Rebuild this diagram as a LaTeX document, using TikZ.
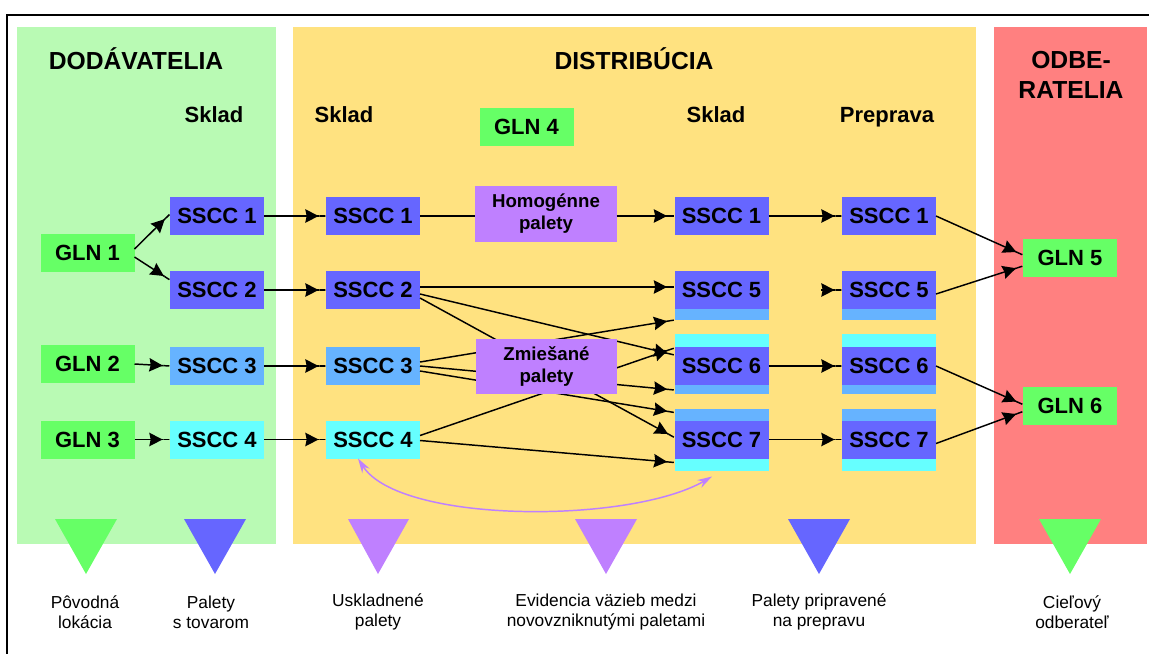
\documentclass[tikz,border=0pt]{standalone}
\usepackage{fontspec}
\setmainfont{Liberation Sans}
\usetikzlibrary{arrows.meta,calc}

\definecolor{panelgreen}{RGB}{185,250,180}
\definecolor{panelyellow}{RGB}{255,226,128}
\definecolor{panelred}{RGB}{255,128,128}
\definecolor{glngreen}{RGB}{102,255,102}
\definecolor{ssccblue}{RGB}{102,102,255}
\definecolor{sscclight}{RGB}{102,179,255}
\definecolor{sscccyan}{RGB}{102,255,255}
\definecolor{mixpurple}{RGB}{191,128,255}

\tikzset{every picture/.style={line width=0.75pt}}
\tikzset{
  idbox/.style={minimum width=70.5pt, minimum height=28.5pt, inner sep=0pt, outer sep=0pt, font=\bfseries\fontsize{16.5}{16.5}\selectfont},
  gln/.style={idbox, fill=glngreen},
  sscc/.style={idbox, fill=ssccblue},
  ssccl/.style={idbox, fill=sscclight},
  ssccc/.style={idbox, fill=sscccyan},
  palbox/.style={fill=mixpurple, minimum width=106pt, minimum height=41.5pt, inner sep=0pt, outer sep=0pt, align=center, font=\bfseries\fontsize{14}{16.5}\selectfont},
  title/.style={font=\bfseries\fontsize{18.5}{22.5}\selectfont, align=center},
  colhead/.style={font=\bfseries\fontsize{16.5}{16.5}\selectfont, anchor=base},
  legend/.style={font=\fontsize{13}{15}\selectfont, align=center},
  flow/.style={line width=1.1pt, -{Stealth[length=10pt,width=10pt,inset=1pt]Rectangle[length=5.5pt,width=1.1pt]}},
  link/.style={line width=1.1pt},
  trace/.style={draw=mixpurple, line width=1.1pt, {Stealth[length=11pt,width=6.5pt]}-{Stealth[length=11pt,width=6.5pt]}},
}

\begin{document}
\begin{tikzpicture}[x=0.75pt,y=0.75pt,yscale=-1,xscale=1]
\useasboundingbox (0,0) rectangle (1149,654);

%Shape: Frame
\draw [line width=1.5pt] (1149,15) -- (7,15) -- (7,654) ;
%Shape: Rectangle (panels)
\fill [panelgreen] (17,27) rectangle (276,544) ;
\fill [panelyellow] (293,27) rectangle (976,544) ;
\fill [panelred] (994,27) rectangle (1147,544) ;

% Text Node
\node [title, anchor=base] (tsup) at (136,69) {DODÁVATELIA};
\node [title, anchor=base] (tdis) at (634,69) {DISTRIBÚCIA};
\node [title] (tcus) at (1071,75) {ODBE-\\RATELIA};
% Text Node
\node [colhead] (hsa) at (214,122) {Sklad};
\node [colhead] (hsb) at (344,122) {Sklad};
\node [colhead] (hsc) at (716,122) {Sklad};
\node [colhead] (hpr) at (887,122) {Preprava};

%Shape: GLN boxes
\node [gln] (g1) at (87.5,253) {GLN 1};
\node [gln] (g2) at (87.5,364) {GLN 2};
\node [gln] (g3) at (87.5,439.5) {GLN 3};
\node [gln] (g4) at (526.5,127) {GLN 4};
\node [gln] (g5) at (1070,258) {GLN 5};
\node [gln] (g6) at (1070,405.5) {GLN 6};

%Shape: SSCC boxes
\node [sscc] (a1) at (217,216) {SSCC 1};
\node [sscc] (a2) at (217,290) {SSCC 2};
\node [ssccl] (a3) at (217,366) {SSCC 3};
\node [ssccc] (a4) at (217,439.5) {SSCC 4};
\node [sscc] (b1) at (373,216) {SSCC 1};
\node [sscc] (b2) at (373,290) {SSCC 2};
\node [ssccl] (b3) at (373,366) {SSCC 3};
\node [ssccc] (b4) at (373,439.5) {SSCC 4};
\node [sscc] (c1) at (721.5,216) {SSCC 1};
\node [sscc] (c5) at (721.5,290) {SSCC 5};
\node [sscc] (c6) at (721.5,366) {SSCC 6};
\node [sscc] (c7) at (721.5,439.5) {SSCC 7};
\node [sscc] (d1) at (889,216) {SSCC 1};
\node [sscc] (d5) at (889,290) {SSCC 5};
\node [sscc] (d6) at (889,366) {SSCC 6};
\node [sscc] (d7) at (889,439.5) {SSCC 7};

%Shape: Stripes
\fill [sscclight] (c5.south west) rectangle ($(c5.south east)+(0,11)$) ;
\fill [sscccyan] ($(c6.north west)+(0,-13)$) rectangle (c6.north east) ;
\fill [sscclight] (c6.south west) rectangle ($(c6.south east)+(0,9)$) ;
\fill [sscclight] ($(c7.north west)+(0,-12)$) rectangle (c7.north east) ;
\fill [sscccyan] (c7.south west) rectangle ($(c7.south east)+(0,12)$) ;
\fill [sscclight] (d5.south west) rectangle ($(d5.south east)+(0,11)$) ;
\fill [sscccyan] ($(d6.north west)+(0,-13)$) rectangle (d6.north east) ;
\fill [sscclight] (d6.south west) rectangle ($(d6.south east)+(0,9)$) ;
\fill [sscclight] ($(d7.north west)+(0,-12)$) rectangle (d7.north east) ;
\fill [sscccyan] (d7.south west) rectangle ($(d7.south east)+(0,12)$) ;

%Shape: Pallet boxes
\node [palbox] (hom) at (546,214) {Homogénne\\palety};

% Connectors
\draw [flow] ($(g1.east)+(0,-4)$) -- ($(a1.west)+(0,-2)$) ;
\draw [flow] ($(g1.east)+(0,4)$) -- ($(a2.west)+(0,-10)$) ;
\draw [flow] (g2.east) -- (a3.west) ;
\draw [flow] (g3.east) -- (a4.west) ;
\draw [flow] (a1.east) -- (b1.west) ;
\draw [flow] (a2.east) -- (b2.west) ;
\draw [flow] (a3.east) -- (b3.west) ;
\draw [flow] (a4.east) -- (b4.west) ;
\draw [link] (b1.east) -- (b1.east -| hom.west) ;
\draw [flow] (c1.west -| hom.east) -- (c1.west) ;
\draw [flow] ($(b2.east)+(0,-3)$) -- ($(c5.west)+(0,-3)$) ;
\draw [flow] ($(b2.east)+(0,4)$) -- ($(c6.north west)+(0,8)$) ;
\draw [flow] ($(b2.east)+(0,8)$) -- ($(c7.west)+(0,-2)$) ;
\draw [flow] ($(b3.east)+(0,-4)$) -- ($(c5.south west)+(0,11)$) ;
\draw [flow] (b3.east) -- ($(c6.south west)+(0,5)$) ;
\draw [flow] ($(b3.east)+(0,5)$) -- ($(c7.north west)+(0,-8)$) ;
\draw [flow] ($(b4.east)+(0,-4)$) -- ($(c6.north west)+(0,1)$) ;
\draw [flow] ($(b4.east)+(0,1)$) -- ($(c7.south west)+(0,4)$) ;
\draw [flow] (c1.east) -- (d1.west) ;
\coordinate (d5in) at ($(d5.west)+(-21,0)$) ;
\draw [flow] (d5in) -- (d5.west) ;
\draw [flow] (c6.east) -- (d6.west) ;
\draw [flow] (c7.east) -- (d7.west) ;
\draw [flow] (d1.east) -- ($(g5.west)+(0,-3)$) ;
\draw [flow] ($(d5.east)+(0,4)$) -- ($(g5.west)+(0,8)$) ;
\draw [flow] (d6.east) -- ($(g6.west)+(0,-1)$) ;
\draw [flow] ($(d7.east)+(0,4)$) -- ($(g6.west)+(0,6)$) ;

%Shape: Pallet boxes (over the crossing lines)
\node [palbox] (zmi) at (546.5,366.5) {Zmiešané\\palety};

%Bend Arrow
\coordinate (evA) at ($(b4.south)+(-15,0)$) ;
\coordinate (evB) at ($(c7.south)+(-9.5,18)$) ;
\draw [trace] (evA) .. controls (400,524) and (630,524) .. (evB) ;

%Shape: Triangle
\fill [glngreen] (55,519) -- (117,519) -- (86,574) -- cycle ;
\fill [ssccblue] (184,519) -- (246,519) -- (215,574) -- cycle ;
\fill [mixpurple] (348,519) -- (409,519) -- (378,574) -- cycle ;
\fill [mixpurple] (575,519) -- (637,519) -- (606,574) -- cycle ;
\fill [ssccblue] (788,519) -- (850,519) -- (819,574) -- cycle ;
\fill [glngreen] (1039,519) -- (1101,519) -- (1070,574) -- cycle ;

% Text Node
\node [legend] (l1) at (85,612) {Pôvodná\\lokácia};
\node [legend] (l2) at (211,612) {Palety\\s tovarom};
\node [legend] (l3) at (378,612) {Uskladnené\\palety};
\node [legend] (l4) at (606,612) {Evidencia väzieb medzi\\novovzniknutými paletami};
\node [legend] (l5) at (819,612) {Palety pripravené\\na prepravu};
\node [legend] (l6) at (1072,612) {Cieľový\\odberateľ};

\end{tikzpicture}
\end{document}
